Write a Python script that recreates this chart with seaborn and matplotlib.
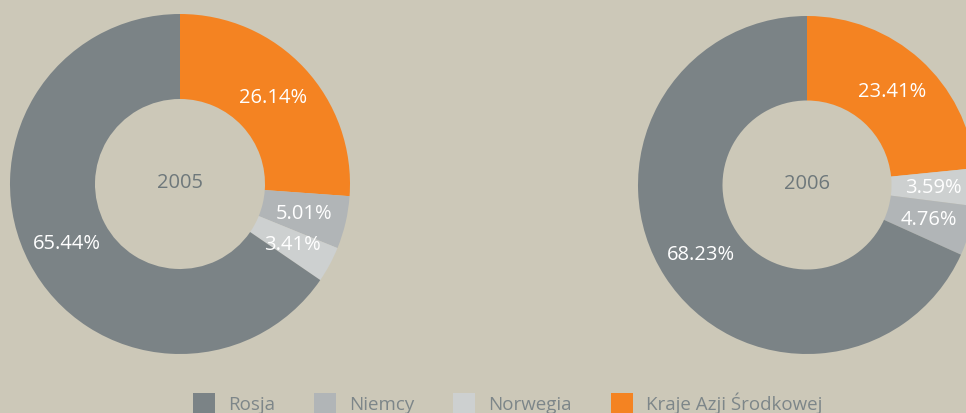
"""
Donut charts: share of gas import sources, 2005 vs 2006.
"""

import matplotlib
matplotlib.use("Agg")
import matplotlib.pyplot as plt
import matplotlib.patches as mpatches
import seaborn as sns

# data
categories = ["Rosja", "Niemcy", "Norwegia", "Kraje Azji Środkowej"]
years = ["2005", "2006"]
# slice order clockwise from 12 o'clock, as drawn in the reference
order_2005 = ["Kraje Azji Środkowej", "Niemcy", "Norwegia", "Rosja"]
values_2005 = [26.14, 5.01, 3.41, 65.44]
order_2006 = ["Kraje Azji Środkowej", "Norwegia", "Niemcy", "Rosja"]
values_2006 = [23.41, 3.59, 4.76, 68.23]

BG = "#ccc8b8"
COLORS = {
    "Rosja": "#7b8386",
    "Niemcy": "#b1b5b7",
    "Norwegia": "#cdd0d0",
    "Kraje Azji Środkowej": "#f48322",
}
YEAR_COLOR = "#6e787b"
LEGEND_TEXT = "#7d8689"

sns.set_theme(style="white")
plt.rcParams["font.family"] = ["Open Sans", "DejaVu Sans"]

W, H = 966, 414
fig = plt.figure(figsize=(W / 100, H / 100), dpi=100)
fig.patch.set_facecolor(BG)


def donut(cx, cy, r, order, values, year):
    # axes placed in pixel units so the donut lands where it does in the reference
    ax = fig.add_axes([(cx - r) / W, (H - cy - r) / H, 2 * r / W, 2 * r / H])
    # print the published values, not the renormalised ones
    vals = iter(values)
    ax.pie(
        values,
        colors=[COLORS[c] for c in order],
        startangle=90,
        counterclock=False,
        autopct=lambda p: f"{next(vals):.2f}%",
        pctdistance=0.75,
        wedgeprops=dict(width=0.5, linewidth=0),
        textprops=dict(color="white", fontsize=14.5),
    )
    ax.set_xlim(-1, 1)
    ax.set_ylim(-1, 1)
    ax.set_axis_off()
    ax.text(0, 0.01, year, ha="center", va="center", fontsize=14.5, color=YEAR_COLOR)
    return ax


donut(180, 185, 170, order_2005, values_2005, years[0])
donut(807, 186, 169, order_2006, values_2006, years[1])

handles = [mpatches.Patch(facecolor=COLORS[c], edgecolor="none", label=c) for c in categories]
leg = fig.legend(
    handles=handles,
    loc="upper left",
    bbox_to_anchor=(193 / W, 1 - 393 / H),
    ncol=4,
    frameon=False,
    fontsize=13.5,
    handlelength=1.15,
    handleheight=1.3,
    handletextpad=0.7,
    columnspacing=2.1,
    borderpad=0,
    borderaxespad=0,
)
for t in leg.get_texts():
    t.set_color(LEGEND_TEXT)

fig.savefig("out.png", dpi=100, facecolor=BG)
